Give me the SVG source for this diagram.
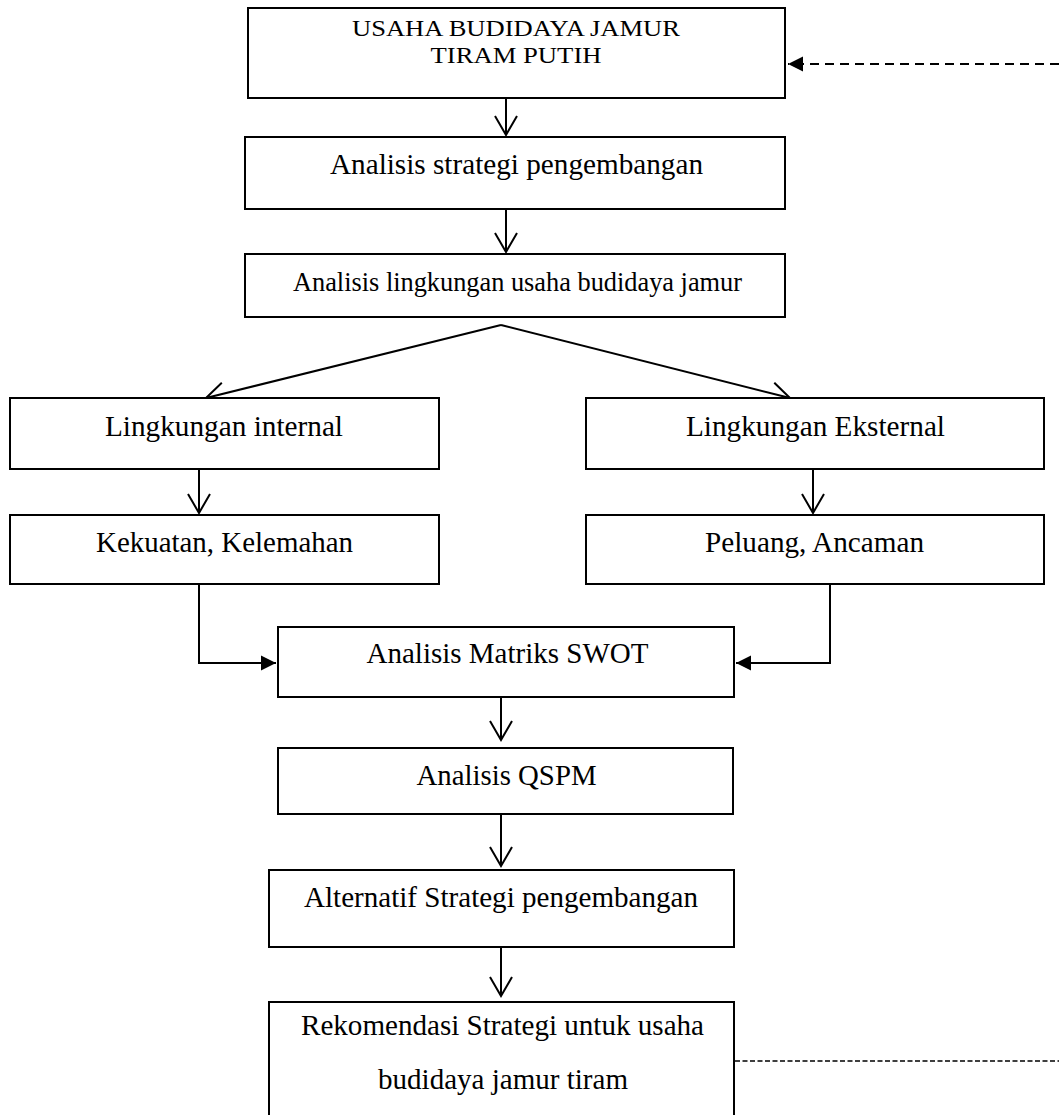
<svg xmlns="http://www.w3.org/2000/svg" width="1059" height="1115" viewBox="0 0 1059 1115">
<style>
.box{fill:#fff;stroke:#000;stroke-width:2}
.t{font-family:"Liberation Serif","Times New Roman",serif;font-size:29px;fill:#000;text-anchor:middle}
.s{font-size:24px}
.l{font-size:30px}
.m{font-size:27px}
.ln{fill:none;stroke:#000;stroke-width:2}
.dash1{fill:none;stroke:#000;stroke-width:2;stroke-dasharray:9 6}
.dash2{fill:none;stroke:#000;stroke-width:1.3;stroke-dasharray:5 2.5}
</style>
<defs>
<marker id="open" viewBox="0 0 22 24" markerUnits="userSpaceOnUse" markerWidth="22" markerHeight="24" refX="20" refY="12" orient="auto">
<path d="M1,1 L20,12 L1,23" fill="none" stroke="#000" stroke-width="2"/>
</marker>
<marker id="fill" viewBox="0 0 16 16" markerUnits="userSpaceOnUse" markerWidth="16" markerHeight="16" refX="15" refY="8" orient="auto">
<path d="M0,0.5 L15,8 L0,15.5 z" fill="#000"/>
</marker>
</defs>
<rect width="1059" height="1115" fill="#fff"/>
<g id="connectors">
<line class="ln" x1="506" y1="98" x2="506" y2="135" marker-end="url(#open)"/>
<line class="ln" x1="506" y1="209" x2="506" y2="252" marker-end="url(#open)"/>
<line class="ln" x1="501" y1="325" x2="206" y2="398" marker-end="url(#open)"/>
<line class="ln" x1="501" y1="325" x2="790" y2="398" marker-end="url(#open)"/>
<line class="ln" x1="199" y1="469" x2="199" y2="513" marker-end="url(#open)"/>
<line class="ln" x1="813" y1="469" x2="813" y2="513" marker-end="url(#open)"/>
<polyline class="ln" points="199,584 199,663 276,663" marker-end="url(#fill)"/>
<polyline class="ln" points="830,584 830,663 736,663" marker-end="url(#fill)"/>
<line class="ln" x1="501" y1="697" x2="501" y2="740" marker-end="url(#open)"/>
<line class="ln" x1="501" y1="814" x2="501" y2="866" marker-end="url(#open)"/>
<line class="ln" x1="501" y1="947" x2="501" y2="996" marker-end="url(#open)"/>
<line class="dash1" x1="1059" y1="64" x2="788" y2="64" marker-end="url(#fill)"/>
<line class="dash2" x1="735" y1="1061" x2="1059" y2="1061"/>
</g>
<g id="n1"><rect class="box" x="248" y="8" width="537" height="90" stroke-width="2.5"/>
<text class="t s" x="516" y="36" textLength="328" lengthAdjust="spacingAndGlyphs">USAHA BUDIDAYA JAMUR</text>
<text class="t s" x="516" y="63" textLength="171" lengthAdjust="spacingAndGlyphs">TIRAM PUTIH</text></g>
<g id="n2"><rect class="box" x="245" y="137" width="540" height="72"/>
<text class="t l" x="516.5" y="174" textLength="373" lengthAdjust="spacingAndGlyphs">Analisis strategi pengembangan</text></g>
<g id="n3"><rect class="box" x="245" y="254" width="540" height="63"/>
<text class="t m" x="517.5" y="291" textLength="449" lengthAdjust="spacingAndGlyphs">Analisis lingkungan usaha budidaya jamur</text></g>
<g id="n4"><rect class="box" x="10" y="398" width="429" height="71"/>
<text class="t" x="224" y="436" textLength="238" lengthAdjust="spacingAndGlyphs">Lingkungan internal</text></g>
<g id="n5"><rect class="box" x="586" y="398" width="458" height="71"/>
<text class="t" x="815.5" y="436" textLength="259" lengthAdjust="spacingAndGlyphs">Lingkungan Eksternal</text></g>
<g id="n6"><rect class="box" x="10" y="515" width="429" height="69"/>
<text class="t" x="224.5" y="552" textLength="257" lengthAdjust="spacingAndGlyphs">Kekuatan, Kelemahan</text></g>
<g id="n7"><rect class="box" x="586" y="515" width="458" height="69"/>
<text class="t" x="814.5" y="552" textLength="219" lengthAdjust="spacingAndGlyphs">Peluang, Ancaman</text></g>
<g id="n8"><rect class="box" x="278" y="627" width="456" height="70"/>
<text class="t" x="507.5" y="663" textLength="282" lengthAdjust="spacingAndGlyphs">Analisis Matriks SWOT</text></g>
<g id="n9"><rect class="box" x="278" y="748" width="455" height="66"/>
<text class="t l" x="506.5" y="785" textLength="180" lengthAdjust="spacingAndGlyphs">Analisis QSPM</text></g>
<g id="n10"><rect class="box" x="269" y="870" width="465" height="77"/>
<text class="t l" x="501" y="907" textLength="394" lengthAdjust="spacingAndGlyphs">Alternatif Strategi pengembangan</text></g>
<g id="n11"><rect class="box" x="269" y="1002" width="465" height="130"/>
<text class="t" x="502.5" y="1035" textLength="403" lengthAdjust="spacingAndGlyphs">Rekomendasi Strategi untuk usaha</text>
<text class="t" x="503" y="1089" textLength="250" lengthAdjust="spacingAndGlyphs">budidaya jamur tiram</text></g>
</svg>
